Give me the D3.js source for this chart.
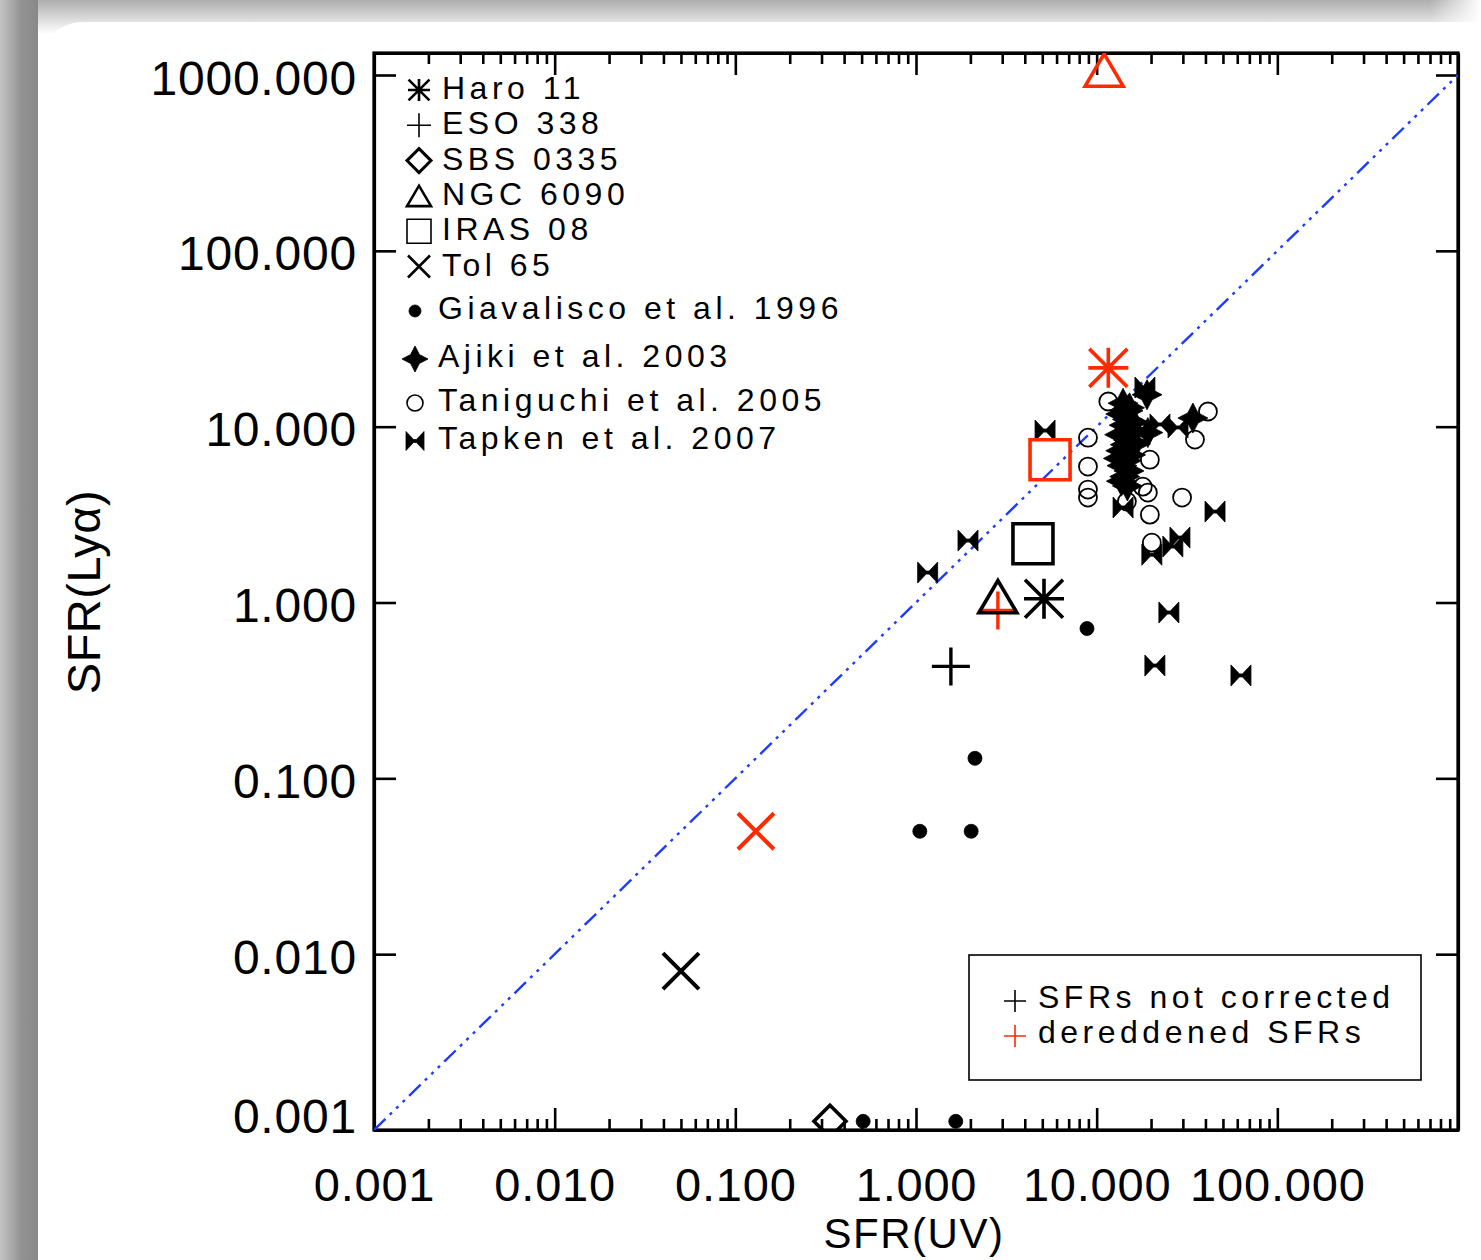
<!DOCTYPE html>
<html><head><meta charset="utf-8">
<script src="https://cdn.jsdelivr.net/npm/d3@7"></script>
<style>
body{margin:0;background:#fff;}
svg{display:block;}
text{font-family:"Liberation Sans", Arial, sans-serif;}
</style></head><body>
<svg id="chart" width="1481" height="1260"></svg>
<script>
// ---------------- DATA ----------------
const galaxyNames   = ["Haro 11","ESO 338","SBS 0335","NGC 6090","IRAS 08","Tol 65"];
const galaxySymbols = ["asterisk","plus","diamond","triangle","square","cross"];
// SFRs not corrected (black)
const obsUV   = [5.11, 1.56, 0.334, 2.84, 4.44, 0.050];
const obsLya  = [1.05, 0.433, 0.00112, 1.08, 2.16, 0.0080];
// dereddened SFRs (red)
const derUV   = [11.6, 2.84, null, 11.0, 5.52, 0.130];
const derLya  = [21.6, 0.90, null, 1067, 6.49, 0.050];

const litNames   = ["Giavalisco et al. 1996","Ajiki et al. 2003","Taniguchi et al. 2005","Tapken et al. 2007"];
const litSymbols = ["dot","star4","circle","bowtie"];

const giavaliscoUV  = [8.84, 2.12, 1.05, 2.02, 0.51, 1.66];
const giavaliscoLya = [0.711, 0.130, 0.050, 0.050, 0.00112, 0.00112];

const ajikiUV  = [14.0, 15.2, 13.6, 14.8, 14.2, 15.6, 13.4, 15.0, 14.4, 13.6, 15.4, 14.6, 13.8, 15.1, 14.3, 13.7, 14.8, 16.4, 19.0, 19.2, 34.1, 14.9, 13.2, 16.0];
const ajikiLya = [13.6, 12.8, 11.8, 11.0, 10.2, 9.6, 9.0, 8.4, 7.9, 7.3, 6.9, 6.4, 6.0, 5.6, 5.2, 4.9, 4.6, 8.0, 15.2, 9.25, 11.2, 12.3, 6.6, 10.6];

const taniguchiUV  = [11.6, 41.3, 35.0, 8.95, 8.95, 8.95, 8.95, 19.7, 18.0, 19.2, 14.7, 29.7, 19.7, 20.2];
const taniguchiLya = [13.9, 12.2, 8.44, 8.66, 5.93, 4.39, 3.95, 6.49, 4.56, 4.22, 3.75, 3.95, 3.16, 2.19];

const tapkenUV  = [5.18, 1.94, 1.16, 25.1, 21.0, 62.9, 45.2, 28.9, 26.4, 20.2, 14.0, 18.5, 22.4, 28.2];
const tapkenLya = [9.5, 2.25, 1.48, 0.877, 0.438, 0.385, 3.29, 2.34, 2.08, 1.87, 3.47, 16.7, 10.3, 9.9];

const diagonal = [0.001, 1000];

const majorTicks = [0.001, 0.01, 0.1, 1, 10, 100, 1000];
const xTickLabels = ["0.001","0.010","0.100","1.000","10.000","100.000",""];
const yTickLabels = ["0.001","0.010","0.100","1.000","10.000","100.000","1000.000"];
const minorMult = [2,3,4,5,6,7,8,9];

const boxLegend = ["SFRs not corrected","dereddened SFRs"];

// ---------------- LAYOUT / STYLE ----------------
const W = 1481, H = 1260;
const P = {left:374, right:1458, top:53, bottom:1130};
const RED = "#ff2a00", BLUE = "#1e3cff";

const svg = d3.select("#chart");
const defs = svg.append("defs");

// frame background
const gTop = defs.append("linearGradient").attr("id","gTop").attr("x1",0).attr("y1",0).attr("x2",0).attr("y2",1);
gTop.append("stop").attr("offset",0).attr("stop-color","#aeaeae");
gTop.append("stop").attr("offset",1).attr("stop-color","#ffffff");
const gLeft = defs.append("linearGradient").attr("id","gLeft").attr("x1",0).attr("y1",0).attr("x2",1).attr("y2",0);
gLeft.append("stop").attr("offset",0).attr("stop-color","#c4c4c4");
gLeft.append("stop").attr("offset",0.55).attr("stop-color","#939393");
gLeft.append("stop").attr("offset",1).attr("stop-color","#888888");
const gFade = defs.append("linearGradient").attr("id","gFade").attr("x1",0).attr("y1",0).attr("x2",1).attr("y2",0);
gFade.append("stop").attr("offset",0).attr("stop-color","#fff").attr("stop-opacity",0);
gFade.append("stop").attr("offset",1).attr("stop-color","#fff").attr("stop-opacity",1);

svg.append("rect").attr("width",W).attr("height",H).attr("fill","#fff");
svg.append("rect").attr("x",0).attr("y",0).attr("width",W).attr("height",34).attr("fill","url(#gTop)");
svg.append("rect").attr("x",1430).attr("y",0).attr("width",51).attr("height",34).attr("fill","url(#gFade)");
svg.append("rect").attr("x",0).attr("y",0).attr("width",38).attr("height",H).attr("fill","url(#gLeft)");
svg.append("path").attr("d","M38,1260 V67 A45,45 0 0 1 83,22 H1481 V1260 Z").attr("fill","#fff");

defs.append("clipPath").attr("id","plotClip").append("rect")
  .attr("x",P.left).attr("y",P.top).attr("width",P.right-P.left).attr("height",P.bottom-P.top);

// scales
const x = d3.scaleLog().domain([0.001, 1000]).range([P.left, P.right]);
const y = d3.scaleLog().domain([0.001, 1334]).range([P.bottom, P.top]);

const xMinor = [];
[0.001,0.01,0.1,1,10,100].forEach(d => minorMult.forEach(m => xMinor.push(d*m)));

// symbol paths
function symPath(type, s){
  const a = s*0.95, r = s*0.34, t = s*0.85;
  switch(type){
    case "asterisk": return `M${-s},0H${s}M0,${-s}V${s}M${-a},${-a}L${a},${a}M${-a},${a}L${a},${-a}`;
    case "plus": return `M${-s},0H${s}M0,${-s}V${s}`;
    case "diamond": return `M0,${-s}L${s},0L0,${s}L${-s},0Z`;
    case "triangle": return `M${-s},${t}L0,${-t}L${s},${t}Z`;
    case "square": return `M${-s},${-s}H${s}V${s}H${-s}Z`;
    case "cross": return `M${-s},${-s}L${s},${s}M${-s},${s}L${s},${-s}`;
    case "star4": return `M0,${-s}L${r},${-r}L${s},0L${r},${r}L0,${s}L${-r},${r}L${-s},0L${-r},${-r}Z`;
    case "bowtie": return `M${-s},${-s*1.05}L${-1.5},-1.5L1.5,-1.5L${s},${-s*1.05}L${s},${s*1.05}L1.5,1.5L-1.5,1.5L${-s},${s*1.05}Z`;
    case "circle": case "dot": { const p = d3.path(); p.arc(0,0,s,0,2*Math.PI); p.closePath(); return p.toString(); }
  }
}
const filled = {dot:true, star4:true, bowtie:true};

// ---------------- AXES ----------------
function styleAxis(g){
  g.selectAll(".domain").attr("stroke","#000").attr("stroke-width",3.2);
  g.selectAll(".tick line").attr("stroke","#000").attr("stroke-width",2.6);
  g.attr("font-family",null).attr("font-size",null);
}
// bottom
const gB = svg.append("g").attr("transform",`translate(0,${P.bottom})`)
  .call(d3.axisBottom(x).tickValues(majorTicks).tickSize(-22).tickSizeOuter(0).tickFormat((d,i)=>xTickLabels[i]));
styleAxis(gB);
gB.selectAll(".tick text").attr("y",71).attr("dy",null).attr("fill","#000")
  .style("font-size","47px").style("letter-spacing","0.8px");
const gBm = svg.append("g").attr("transform",`translate(0,${P.bottom})`)
  .call(d3.axisBottom(x).tickValues(xMinor).tickSize(-11).tickSizeOuter(0).tickFormat(""));
styleAxis(gBm);
// top
const gT = svg.append("g").attr("transform",`translate(0,${P.top})`)
  .call(d3.axisTop(x).tickValues(majorTicks).tickSize(-22).tickSizeOuter(0).tickFormat(""));
styleAxis(gT);
const gTm = svg.append("g").attr("transform",`translate(0,${P.top})`)
  .call(d3.axisTop(x).tickValues(xMinor).tickSize(-11).tickSizeOuter(0).tickFormat(""));
styleAxis(gTm);
// left
const gL = svg.append("g").attr("transform",`translate(${P.left},0)`)
  .call(d3.axisLeft(y).tickValues(majorTicks).tickSize(-22).tickSizeOuter(0).tickFormat((d,i)=>yTickLabels[i]));
styleAxis(gL);
gL.selectAll(".tick text").attr("x",-17).attr("dy",null).attr("fill","#000")
  .attr("y",d => d===0.001 ? 2 : 19)
  .style("font-size","48px").style("letter-spacing","0.8px");
// right
const gR = svg.append("g").attr("transform",`translate(${P.right},0)`)
  .call(d3.axisRight(y).tickValues(majorTicks).tickSize(-22).tickSizeOuter(0).tickFormat(""));
styleAxis(gR);
// closing frame corners
svg.append("rect").attr("x",P.left).attr("y",P.top).attr("width",P.right-P.left).attr("height",P.bottom-P.top)
  .attr("fill","none").attr("stroke","#000").attr("stroke-width",3.2);

// axis titles
svg.append("text").attr("x",914).attr("y",1248).attr("text-anchor","middle")
  .style("font-size","42px").style("letter-spacing","1.5px").text("SFR(UV)");
svg.append("text").attr("transform","translate(100,592) rotate(-90)").attr("text-anchor","middle")
  .style("font-size","47px").style("letter-spacing","0.5px").text("SFR(Lyα)");

// ---------------- MARKS ----------------
const plot = svg.append("g").attr("clip-path","url(#plotClip)");

plot.append("path").datum(diagonal)
  .attr("d", d3.line().x(d=>x(d)).y(d=>y(d)))
  .attr("fill","none").attr("stroke",BLUE).attr("stroke-width",2.4)
  .attr("stroke-dasharray","16,6,3,6,3,6,3,6");

function drawSeries(uv, lya, type, s, color, sw){
  const pts = uv.map((u,i)=>[u, lya[i]]).filter(p => p[0]!=null && p[1]!=null);
  plot.selectAll(null).data(pts).enter().append("path")
    .attr("transform", d => `translate(${x(d[0])},${y(d[1])})`)
    .attr("d", symPath(type, s))
    .attr("fill", filled[type] ? color : "none")
    .attr("stroke", color).attr("stroke-width", filled[type] ? 0.8 : sw)
    .attr("stroke-linejoin","miter");
}
drawSeries(giavaliscoUV, giavaliscoLya, "dot", 7, "#000", 1);
drawSeries(ajikiUV, ajikiLya, "star4", 15, "#000", 1);
drawSeries(taniguchiUV, taniguchiLya, "circle", 9, "#000", 1.8);
drawSeries(tapkenUV, tapkenLya, "bowtie", 10, "#000", 1);

const bigSize = {asterisk:20, plus:19, diamond:16, triangle:19, square:20, cross:18};
const bigSW   = {asterisk:3.6, plus:3.4, diamond:3.6, triangle:3.6, square:3.6, cross:4};
galaxySymbols.forEach((sym,i)=>{
  drawSeries([obsUV[i]],[obsLya[i]], sym, bigSize[sym], "#000", bigSW[sym]);
  drawSeries([derUV[i]],[derLya[i]], sym, bigSize[sym], RED, bigSW[sym]);
});

// ---------------- LEGENDS ----------------
const legSize = {asterisk:11, plus:12, diamond:12, triangle:12, square:12, cross:11, dot:6, star4:13, circle:8, bowtie:9};
const legSW   = {asterisk:2.6, plus:1.6, diamond:3, triangle:2.6, square:1.6, cross:2.6, circle:1.6};
const legTextStyle = t => t.style("font-size","32px").style("letter-spacing","4.5px").attr("fill","#000");

galaxyNames.forEach((name,i)=>{
  const by = 99 + i*35.3;
  const sym = galaxySymbols[i];
  svg.append("path").attr("transform",`translate(419,${by-9})`).attr("d",symPath(sym, legSize[sym]))
    .attr("fill","none").attr("stroke","#000").attr("stroke-width",legSW[sym]);
  svg.append("text").attr("x",442).attr("y",by).text(name).call(legTextStyle);
});
const litBase = [319, 367, 411, 449];
litNames.forEach((name,i)=>{
  const sym = litSymbols[i];
  svg.append("path").attr("transform",`translate(415,${litBase[i]-8})`).attr("d",symPath(sym, legSize[sym]))
    .attr("fill", filled[sym] ? "#000" : "none").attr("stroke","#000").attr("stroke-width", legSW[sym] || 0.8);
  svg.append("text").attr("x",438).attr("y",litBase[i]).text(name).call(legTextStyle);
});

// box legend
svg.append("rect").attr("x",969).attr("y",955).attr("width",452).attr("height",125)
  .attr("fill","#fff").attr("stroke","#000").attr("stroke-width",1.6);
boxLegend.forEach((t,i)=>{
  const by = 1008 + i*35;
  svg.append("path").attr("transform",`translate(1015,${by-7})`).attr("d",symPath("plus",11))
    .attr("fill","none").attr("stroke", i===0 ? "#000" : RED).attr("stroke-width",1.6);
  svg.append("text").attr("x",1038).attr("y",by).text(t).call(legTextStyle);
});
</script>
</body></html>
